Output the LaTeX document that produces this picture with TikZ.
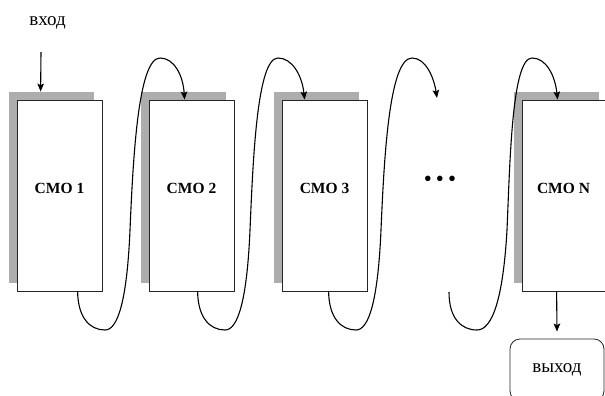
\documentclass[tikz,border=0pt]{standalone}
\usepackage{fontspec}
\setmainfont{Liberation Serif}
\usetikzlibrary{arrows.meta,shadows,calc}

\tikzset{
  smo/.style={draw=black!85, line width=0.8pt, fill=white, minimum width=85pt, minimum height=191pt, inner sep=0pt,
    general shadow={fill=black!32, shadow xshift=-8pt, shadow yshift=8pt}},
  smolabel/.style={font=\fontsize{15.5}{18}\selectfont\bfseries},
  io/.style={font=\fontsize{19}{21}\selectfont},
  flow/.style={line width=1.1pt, -{Stealth[length=8pt,width=6.5pt,inset=1.5pt]}},
}

\begin{document}
\begin{tikzpicture}[x=1pt,y=-1pt]
  \clip (0,0) rectangle (605,396);
  % boxes
  \node[smo] (smo1) at (59.5,195.5) {};
  \node[smo] (smo2) at (191.5,195.5) {};
  \node[smo] (smo3) at (324.5,195.5) {};
  \node[smo] (smoN) at (564.5,195.5) {};
  \node[smolabel] at ([yshift=7pt]smo1.center) {СМО 1};
  \node[smolabel] at ([yshift=7pt]smo2.center) {СМО 2};
  \node[smolabel] at ([yshift=7pt]smo3.center) {СМО 3};
  \node[smolabel] at ([yshift=7pt,xshift=-1pt]smoN.center) {СМО N};
  \node[font=\fontsize{23}{25}\selectfont] (dots) at (440,181) {•\hspace{4pt}•\hspace{4pt}•};
  % in / out
  \node[io, anchor=base] (vhod) at (47.5,26) {вход};
  \node[io, draw=black!85, line width=0.8pt, rounded corners=10pt, minimum width=94pt, minimum height=62pt] (vyhod) at (557,370) {выход};
  \coordinate (gapin) at (437,98);
  \coordinate (gapout) at (449,292);
  \draw[flow] ([xshift=-6.5pt,yshift=-19pt]vhod.south) -- ([xshift=24pt,yshift=8pt]smo1.north west);
  \draw[flow] ([xshift=35pt]smoN.south west) -- ([yshift=7pt]vyhod.north);
  % loops between the stages
  \draw[flow] ([xshift=61pt]smo1.south west) .. controls (78,318) and (90,330) .. (105,330)
    .. controls (118,330) and (127,300) .. (130,230)
    .. controls (133,160) and (138,58) .. (160,58)
    .. controls (174,58) and (183,75) .. ([xshift=36pt]smo2.north west);
  \draw[flow] ([xshift=49pt]smo2.south west) .. controls (198,318) and (210,330) .. (225,330)
    .. controls (238,330) and (247,300) .. (250,230)
    .. controls (253,160) and (257,58) .. (278,58)
    .. controls (292,58) and (302,75) .. ([xshift=23pt]smo3.north west);
  \draw[flow] ([xshift=47pt]smo3.south west) .. controls (329,318) and (341,330) .. (356,330)
    .. controls (369,330) and (378,300) .. (381,230)
    .. controls (384,160) and (389,58) .. (412,58)
    .. controls (426,58) and (434,78) .. (gapin);
  \draw[flow] (gapout) .. controls (449,318) and (461,330) .. (477,330)
    .. controls (492,330) and (503,300) .. (507,230)
    .. controls (510,160) and (512,58) .. (532,58)
    .. controls (546,58) and (555,75) .. ([xshift=36pt]smoN.north west);
\end{tikzpicture}
\end{document}
